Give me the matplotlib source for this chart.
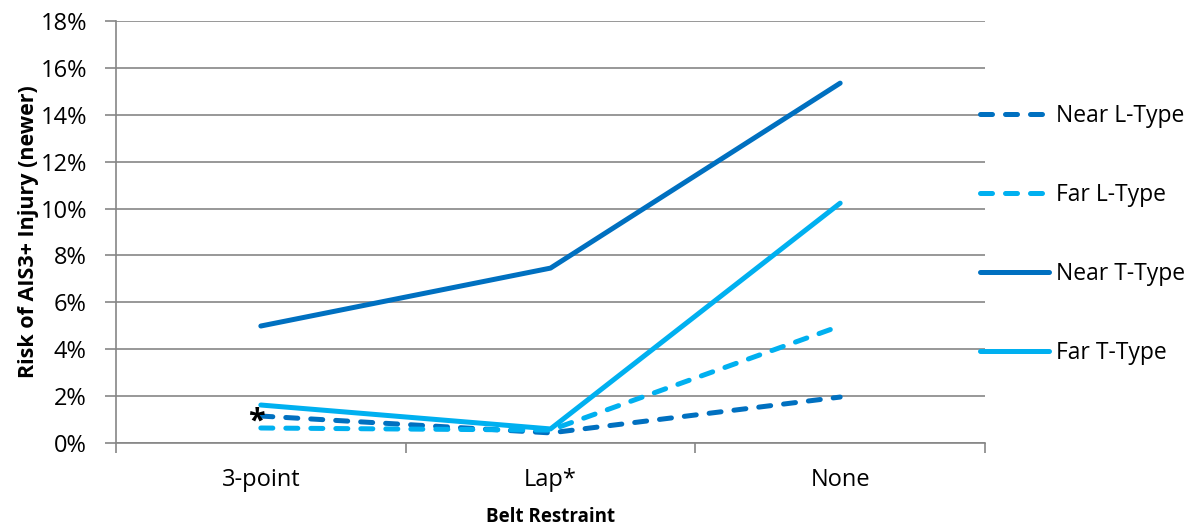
import matplotlib
matplotlib.use("Agg")
import matplotlib.pyplot as plt
from matplotlib.ticker import FuncFormatter

categories = ["3-point", "Lap*", "None"]
near_l = [1.15, 0.43, 1.96]
far_l = [0.64, 0.55, 4.99]
near_t = [4.99, 7.46, 15.35]
far_t = [1.62, 0.60, 10.23]
yticks = [0, 2, 4, 6, 8, 10, 12, 14, 16, 18]

dark = "#0070C0"
light = "#00B0F0"
grid = "#868686"

plt.rcParams['font.family'] = ['Open Sans', 'DejaVu Sans']

fig = plt.figure(figsize=(11.96, 5.29), dpi=100)
ax = fig.add_axes([116/1196, 1-443/529, (985-116)/1196, (443-21)/529])

x = list(range(len(categories)))
lw = 3.6
dash = (0, (2.4, 2.6))
ax.plot(x, near_l, color=dark, lw=lw, ls=dash, dash_capstyle='round', solid_capstyle='round', label="Near L-Type", zorder=3)
ax.plot(x, far_l, color=light, lw=lw, ls=dash, dash_capstyle='round', solid_capstyle='round', label="Far L-Type", zorder=3)
ax.plot(x, near_t, color=dark, lw=lw, solid_capstyle='round', label="Near T-Type", zorder=3)
ax.plot(x, far_t, color=light, lw=lw, solid_capstyle='round', label="Far T-Type", zorder=3)

ax.annotate("*", xy=(0, near_l[0]), xytext=(-3, -4), textcoords='offset points',
            ha='center', va='center', fontsize=22, fontweight='bold', color='black', zorder=4)

ax.set_xlim(-0.5, 2.5)
ax.set_ylim(0, 18)
ax.set_yticks(yticks)
ax.yaxis.set_major_formatter(FuncFormatter(lambda v, p: f"{v:.0f}%"))
ax.set_xticks(x)
ax.set_xticklabels(categories)
ax.set_xticks([-0.5, 0.5, 1.5, 2.5], minor=True)
ax.tick_params(axis='x', which='major', length=0, pad=18, labelsize=17)
ax.tick_params(axis='x', which='minor', length=7, color=grid, width=1.2, direction='out')
ax.tick_params(axis='y', length=8, color=grid, width=1.2, labelsize=17, pad=13)
ax.grid(axis='y', color=grid, lw=1.2, zorder=1)
ax.set_axisbelow(True)
for s in ['top', 'right']:
    ax.spines[s].set_visible(False)
for s in ['left', 'bottom']:
    ax.spines[s].set_color(grid)
    ax.spines[s].set_linewidth(1.2)

ax.set_ylabel("Risk of AIS3+ Injury (newer)", fontsize=15.5, fontweight='bold')
ax.set_xlabel("Belt Restraint", fontsize=13.5, fontweight='bold')
ax.yaxis.set_label_coords((29 - 116) / 869, 0.5)
ax.xaxis.set_label_coords(0.5, (443 - 517) / 422)
ax.yaxis.label.set_va('center')
ax.xaxis.label.set_va('center')

leg = ax.legend(loc='upper left', bbox_to_anchor=(980/1196, 1-104/529), bbox_transform=fig.transFigure,
                frameon=False, fontsize=16.5, handlelength=3.0, handletextpad=0.3,
                labelspacing=2.4, borderaxespad=0, borderpad=0)

fig.savefig("out.png", dpi=100)
